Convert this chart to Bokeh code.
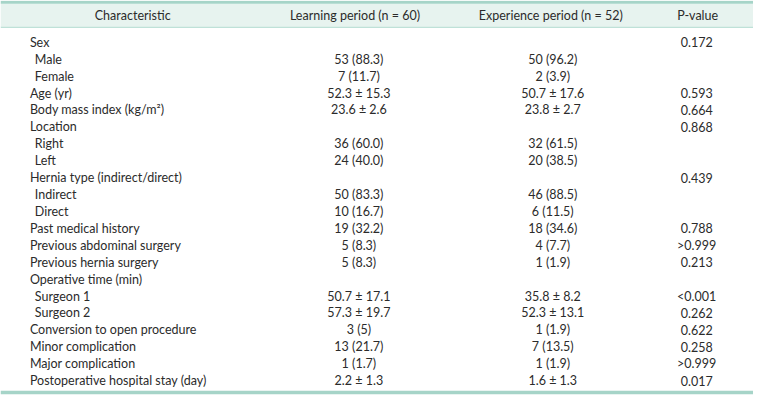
from bokeh.plotting import figure
from bokeh.models import Range1d
from bokeh.core.properties import value
from bokeh.embed import file_html
from bokeh.resources import INLINE

# ---- table content ----
headers = ["Characteristic", "Learning period (n = 60)", "Experience period (n = 52)", "P-value"]
characteristics = ["Sex", "Male", "Female", "Age (yr)", "Body mass index (kg/m²)", "Location",
                   "Right", "Left", "Hernia type (indirect/direct)", "Indirect", "Direct",
                   "Past medical history", "Previous abdominal surgery", "Previous hernia surgery",
                   "Operative time (min)", "Surgeon 1", "Surgeon 2", "Conversion to open procedure",
                   "Minor complication", "Major complication", "Postoperative hospital stay (day)"]
is_sub = [0, 1, 1, 0, 0, 0, 1, 1, 0, 1, 1, 0, 0, 0, 0, 1, 1, 0, 0, 0, 0]
learning = ["", "53 (88.3)", "7 (11.7)", "52.3 ± 15.3", "23.6 ± 2.6", "", "36 (60.0)", "24 (40.0)",
            "", "50 (83.3)", "10 (16.7)", "19 (32.2)", "5 (8.3)", "5 (8.3)", "", "50.7 ± 17.1",
            "57.3 ± 19.7", "3 (5)", "13 (21.7)", "1 (1.7)", "2.2 ± 1.3"]
experience = ["", "50 (96.2)", "2 (3.9)", "50.7 ± 17.6", "23.8 ± 2.7", "", "32 (61.5)", "20 (38.5)",
              "", "46 (88.5)", "6 (11.5)", "18 (34.6)", "4 (7.7)", "1 (1.9)", "", "35.8 ± 8.2",
              "52.3 ± 13.1", "1 (1.9)", "7 (13.5)", "1 (1.9)", "1.6 ± 1.3"]
pvalues = ["0.172", "", "", "0.593", "0.664", "0.868", "", "", "0.439", "", "", "0.788", ">0.999",
           "0.213", "", "<0.001", "0.262", "0.622", "0.258", ">0.999", "0.017"]

# ---- layout (in reference pixel units) ----
W_REF, H_REF = 769, 411
FONT = value("Lato")
FS = "12.5px"
TXT = "#2b2b2b"
TEAL = "#a6d4c8"
HEAD_BG = "#e7f3ef"

p = figure(width=753, height=395, output_backend="svg", toolbar_location=None,
           x_range=Range1d(0, W_REF), y_range=Range1d(H_REF, 0),
           min_border=0, min_border_left=0, min_border_right=0,
           min_border_top=0, min_border_bottom=0)
p.axis.visible = False
p.grid.visible = False
p.outline_line_color = None
p.background_fill_color = "white"
p.border_fill_color = "white"

# header band and rules
p.quad(left=[0], right=[W_REF], top=[3], bottom=[27.5], fill_color=HEAD_BG, line_color=None)
p.segment(x0=[0], y0=[1.8], x1=[W_REF], y1=[1.8], line_color=TEAL, line_width=3)
p.segment(x0=[0], y0=[28], x1=[W_REF], y1=[28], line_color="#bfe1d8", line_width=1.2)
p.segment(x0=[0], y0=[407.8], x1=[W_REF], y1=[407.8], line_color=TEAL, line_width=3.5)

# header texts
hx = [135, 362, 562, 712]
p.text(x=hx, y=[15.5] * 4, text=headers, text_align="center", text_baseline="middle",
       text_font=FONT, text_font_size=FS, text_color=TXT)

# body
row0, step = 43.5, 17.6
ys = [row0 + i * step for i in range(len(characteristics))]
xs = [30 + 5 * s for s in is_sub]
p.text(x=xs, y=ys, text=characteristics, text_align="left", text_baseline="middle",
       text_font=FONT, text_font_size=FS, text_color=TXT)
p.text(x=[366] * len(ys), y=ys, text=learning, text_align="center", text_baseline="middle",
       text_font=FONT, text_font_size=FS, text_color=TXT)
p.text(x=[564] * len(ys), y=ys, text=experience, text_align="center", text_baseline="middle",
       text_font=FONT, text_font_size=FS, text_color=TXT)
p.text(x=[711] * len(ys), y=ys, text=pvalues, text_align="center", text_baseline="middle",
       text_font=FONT, text_font_size=FS, text_color=TXT)

open("out.html", "w").write(file_html(p, INLINE))
